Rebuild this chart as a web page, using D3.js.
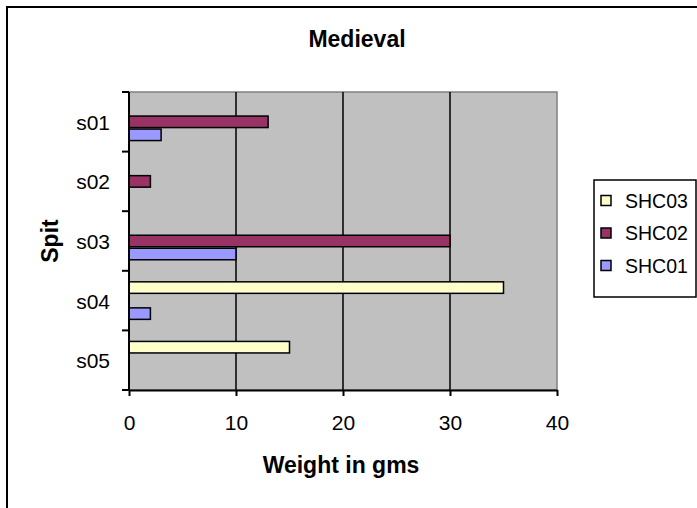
<!DOCTYPE html>
<html><head><meta charset="utf-8">
<script src="https://cdn.jsdelivr.net/npm/d3@7"></script>
<style>
html,body{margin:0;padding:0;background:#fff;}
svg{display:block;font-family:"Liberation Sans",Arial,sans-serif;}
</style></head>
<body>
<svg id="chart" width="697" height="508"></svg>
<script>
const categories = ["s01","s02","s03","s04","s05"];
const seriesNames = ["SHC03","SHC02","SHC01"];
const SHC03 = [0, 0, 0, 35, 15];
const SHC02 = [13, 2, 30, 0, 0];
const SHC01 = [3, 0, 10, 2, 0];
const xTicks = [0, 10, 20, 30, 40];
const colors = {SHC03:"#FFFFCC", SHC02:"#993366", SHC01:"#9999FF"};
const seriesValues = {SHC03, SHC02, SHC01};

const svg = d3.select("#chart");
// outer chart border
svg.append("rect").attr("x",7).attr("y",7).attr("width",720).attr("height",540)
  .attr("fill","#fff").attr("stroke","#000").attr("stroke-width",2);

const L=129, R=557, T=92, B=390;
const x = d3.scaleLinear().domain([0,40]).range([L,R]);
const y = d3.scaleBand().domain(categories).range([T,B]).padding(0);
const yi = d3.scaleBand().domain(seriesNames).range([0,y.bandwidth()]).paddingInner(0).paddingOuter(0.79);

// plot background
svg.append("rect").attr("x",L).attr("y",T).attr("width",R-L).attr("height",B-T)
  .attr("fill","#C0C0C0").attr("stroke","#808080").attr("stroke-width",1.5);

// gridlines
svg.append("g").selectAll("line").data(xTicks.filter(d=>d>0 && d<40)).join("line")
  .attr("x1",d=>x(d)).attr("x2",d=>x(d)).attr("y1",T).attr("y2",B)
  .attr("stroke","#000").attr("stroke-width",1.5);

// bars
const gb = svg.append("g");
seriesNames.forEach(s=>{
  categories.forEach((c,i)=>{
    const v = seriesValues[s][i];
    if(!v) return;
    gb.append("rect")
      .attr("x",x(0)).attr("y",y(c)+yi(s)+0.75)
      .attr("width",x(v)-x(0)).attr("height",yi.bandwidth()-1.5)
      .attr("fill",colors[s]).attr("stroke","#000").attr("stroke-width",1.5);
  });
});

// x axis
const xa = svg.append("g").attr("transform",`translate(0,${B})`)
  .call(d3.axisBottom(x).tickValues(xTicks).tickSize(6).tickSizeOuter(0).tickPadding(18));
xa.select(".domain").attr("stroke","#000").attr("stroke-width",2);
xa.selectAll(".tick line").attr("stroke","#000").attr("stroke-width",2);
xa.selectAll(".tick text").attr("font-size",21).attr("fill","#000")
  .attr("font-family","Liberation Sans, Arial, sans-serif").attr("dy",0).attr("y",40);

// y axis: ticks at band boundaries
const ga = svg.append("g");
ga.append("line").attr("x1",L).attr("x2",L).attr("y1",T).attr("y2",B+1)
  .attr("stroke","#000").attr("stroke-width",2);
const bounds = categories.map(c=>y(c)).concat([B]);
ga.selectAll("line.tk").data(bounds).join("line").attr("class","tk")
  .attr("x1",L-7).attr("x2",L).attr("y1",d=>d).attr("y2",d=>d)
  .attr("stroke","#000").attr("stroke-width",2);
ga.selectAll("text").data(categories).join("text")
  .attr("x",L-19).attr("y",d=>y(d)+y.bandwidth()/2+8)
  .attr("text-anchor","end").attr("font-size",21).attr("fill","#000").text(d=>d);

// titles
svg.append("text").attr("x",357).attr("y",47).attr("text-anchor","middle")
  .attr("font-size",23).attr("font-weight","bold").text("Medieval");
svg.append("text").attr("x",(L+R)/2-2).attr("y",473).attr("text-anchor","middle")
  .attr("font-size",23).attr("font-weight","bold").text("Weight in gms");
svg.append("text").attr("transform",`translate(58,${(T+B)/2}) rotate(-90)`)
  .attr("text-anchor","middle").attr("font-size",23).attr("font-weight","bold").text("Spit");

// legend
const lg = svg.append("g");
lg.append("rect").attr("x",594).attr("y",180).attr("width",102).attr("height",117)
  .attr("fill","#fff").attr("stroke","#000").attr("stroke-width",1.5);
seriesNames.forEach((s,i)=>{
  const cy = 200.5 + i*32.5;
  lg.append("rect").attr("x",601).attr("y",cy-5).attr("width",10).attr("height",10)
    .attr("fill",colors[s]).attr("stroke","#000").attr("stroke-width",1.5);
  lg.append("text").attr("x",625).attr("y",cy+7).attr("font-size",19.5).attr("fill","#000").text(s);
});
</script>
</body></html>
